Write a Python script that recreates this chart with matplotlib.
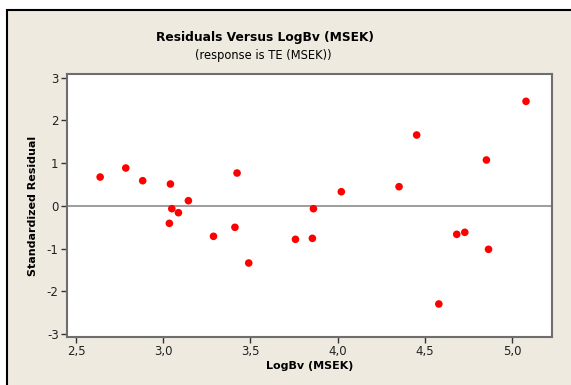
import matplotlib
matplotlib.use("Agg")
import matplotlib.pyplot as plt
from matplotlib.patches import Rectangle
from matplotlib.ticker import FixedLocator, FuncFormatter

# Standardized residuals against LogBv (MSEK)
log_bv = [2.638, 2.785, 2.882, 3.041, 3.049, 3.087, 3.035, 3.144, 3.288, 3.423,
          3.411, 3.490, 3.758, 3.855, 3.861, 4.021, 4.352, 4.453, 4.580, 4.683,
          4.729, 4.853, 4.865, 5.080]
std_resid = [0.675, 0.886, 0.589, 0.512, -0.066, -0.160, -0.409, 0.121, -0.713, 0.769,
             -0.502, -1.338, -0.783, -0.760, -0.066, 0.331, 0.449, 1.659, -2.297, -0.666,
             -0.619, 1.074, -1.017, 2.447]

x_ticks = [2.5, 3.0, 3.5, 4.0, 4.5, 5.0]
y_ticks = [-3, -2, -1, 0, 1, 2, 3]

W, H = 571, 385
fig = plt.figure(figsize=(W / 100, H / 100), dpi=100, facecolor="white")
plt.rcParams["font.family"] = ["DejaVu Sans"]

# beige panel with black border on the top and left
panel = Rectangle((7 / W, -0.1), 1.2, (H - 10) / H + 0.1, transform=fig.transFigure,
                  facecolor="#EEEAE0", edgecolor="black", linewidth=1.5, zorder=-10)
fig.patches.append(panel)

ax = fig.add_axes([67 / W, 48 / H, 485 / W, 263 / H])
ax.set_zorder(5)
ax.set_facecolor("white")
ax.set_xlim(2.448, 5.229)
ax.set_ylim(-3.07, 3.087)

frame_col = "#6E6E6E"
for s in ax.spines.values():
    s.set_color(frame_col)
    s.set_linewidth(1.5)

ax.axhline(0, color="#8C8C8C", linewidth=1.2, zorder=1)
ax.scatter(log_bv, std_resid, s=30, color="#FF0000", edgecolors="none", zorder=3)

ax.xaxis.set_major_locator(FixedLocator(x_ticks))
ax.yaxis.set_major_locator(FixedLocator(y_ticks))
ax.xaxis.set_major_formatter(FuncFormatter(lambda v, p: f"{v:.1f}".replace(".", ",")))
ax.yaxis.set_major_formatter(FuncFormatter(lambda v, p: f"{int(round(v))}"))
ax.tick_params(axis="both", direction="out", length=4, width=1, color="#333333",
               labelsize=8.5, labelcolor="#222222", pad=2)

ax.set_xlabel("LogBv (MSEK)", fontsize=8, fontweight="bold", labelpad=2)
ax.set_ylabel("Standardized Residual", fontsize=8, fontweight="bold", labelpad=6)

fig.text(265 / W, 1 - 38 / H, "Residuals Versus LogBv (MSEK)", ha="center", va="center",
         fontsize=8.8, fontweight="bold")
fig.text(263 / W, 1 - 56 / H, "(response is TE (MSEK))", ha="center", va="center",
         fontsize=8.3)

fig.savefig("out.png", dpi=100, facecolor=fig.get_facecolor())
